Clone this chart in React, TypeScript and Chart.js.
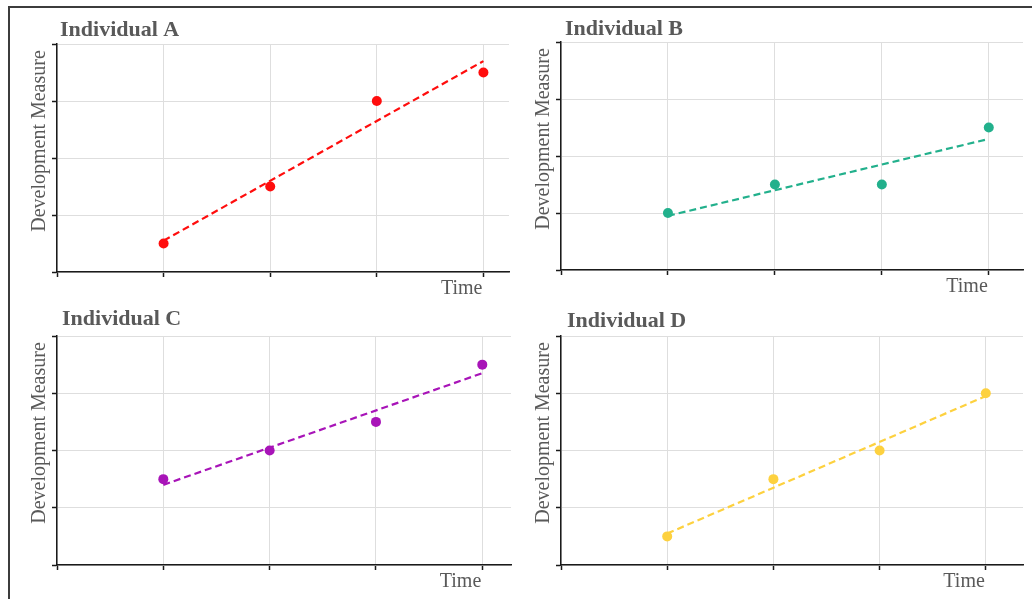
import React, { useEffect, useRef } from "react";
import { Chart, registerables } from "chart.js";

Chart.register(...registerables);

// ---- data ----
const PANEL_TITLES = ["Individual A", "Individual B", "Individual C", "Individual D"];
const TIMES = [1, 2, 3, 4];
const VALUES_A = [0.5, 1.5, 3, 3.5];
const VALUES_B = [1, 1.5, 1.5, 2.5];
const VALUES_C = [1.5, 2, 2.5, 3.5];
const VALUES_D = [0.5, 1.5, 2, 3];
// dashed trend lines (start / end values)
const TREND_TIMES = [1, 4];
const TREND_A = [0.55, 3.7];
const TREND_B = [0.95, 2.3];
const TREND_C = [1.4, 3.35];
const TREND_D = [0.55, 2.95];
const X_TICKS = [0, 1, 2, 3, 4];
const Y_TICKS = [0, 1, 2, 3, 4];
const Y_LABEL = "Development Measure";
const X_LABEL = "Time";
const COLORS = ["#ff0d0d", "#22b08c", "#a814b8", "#fdd13f"];

const VALUES = [VALUES_A, VALUES_B, VALUES_C, VALUES_D];
const TRENDS = [TREND_A, TREND_B, TREND_C, TREND_D];

// ---- layout ----
type Layout = {
  left: number; top: number; w: number; h: number;
  pad: { top: number; right: number; bottom: number };
  xmax: number; tdx: number; tdy: number;
};
const LAYOUTS: Layout[] = [
  { left: 0, top: 0, w: 520, h: 300, pad: { top: 44, right: 11, bottom: 0 }, xmax: 4.24, tdx: 3, tdy: -8 },
  { left: 504, top: 0, w: 528, h: 300, pad: { top: 42, right: 9, bottom: 2 }, xmax: 4.32, tdx: 4, tdy: -7 },
  { left: 0, top: 300, w: 520, h: 299, pad: { top: 36, right: 9, bottom: 6 }, xmax: 4.27, tdx: 5, tdy: -11 },
  { left: 504, top: 300, w: 528, h: 299, pad: { top: 36, right: 9, bottom: 6 }, xmax: 4.35, tdx: 6, tdy: -9 },
];

const TEXT_COLOR = "#595959";
const FONT = "'Liberation Serif', 'DejaVu Serif', serif";

const panelTextPlugin = {
  id: "panelText",
  afterDraw(chart: any, _args: any, opts: any) {
    const { ctx, chartArea } = chart;
    ctx.save();
    ctx.fillStyle = TEXT_COLOR;
    // title
    ctx.font = `bold 22px ${FONT}`;
    ctx.textAlign = "left";
    ctx.textBaseline = "alphabetic";
    ctx.fillText(opts.title, chartArea.left + opts.tdx, chartArea.top + opts.tdy);
    // y label
    ctx.save();
    ctx.font = `20px ${FONT}`;
    ctx.translate(chartArea.left - 12, chartArea.top + 97);
    ctx.rotate(-Math.PI / 2);
    ctx.textAlign = "center";
    ctx.textBaseline = "alphabetic";
    ctx.fillText(opts.ylabel, 0, 0);
    ctx.restore();
    // x label
    ctx.font = `20px ${FONT}`;
    ctx.textAlign = "right";
    ctx.textBaseline = "alphabetic";
    const xEnd = chart.scales.x.getPixelForValue(X_TICKS[X_TICKS.length - 1]);
    ctx.fillText(opts.xlabel, xEnd - 1, chartArea.bottom + 22);
    ctx.restore();
  },
};

function Panel({ idx }: { idx: number }) {
  const ref = useRef<HTMLCanvasElement | null>(null);
  const L = LAYOUTS[idx];
  useEffect(() => {
    if (!ref.current) return;
    const color = COLORS[idx];
    const points = TIMES.map((t, i) => ({ x: t, y: VALUES[idx][i] }));
    const trend = TREND_TIMES.map((t, i) => ({ x: t, y: TRENDS[idx][i] }));
    const gridCommon = {
      color: "#dedede",
      lineWidth: 1,
      drawTicks: true,
      tickLength: 5,
      tickColor: "#1a1a1a",
      tickWidth: 1.5,
    };
    const chart = new Chart(ref.current, {
      type: "scatter",
      data: {
        datasets: [
          {
            type: "scatter",
            data: points,
            backgroundColor: color,
            borderColor: color,
            borderWidth: 0,
            pointRadius: 5,
            order: 1,
          } as any,
          {
            type: "line",
            data: trend,
            borderColor: color,
            borderWidth: 2.2,
            borderDash: [7, 4],
            pointRadius: 0,
            fill: false,
            order: 2,
          } as any,
        ],
      },
      options: {
        responsive: false,
        animation: false,
        layout: { padding: { left: 0, top: L.pad.top, right: L.pad.right, bottom: L.pad.bottom } },
        plugins: {
          legend: { display: false },
          tooltip: { enabled: false },
          panelText: {
            title: PANEL_TITLES[idx],
            ylabel: Y_LABEL,
            xlabel: X_LABEL,
            tdx: L.tdx,
            tdy: L.tdy,
          },
        } as any,
        scales: {
          x: {
            type: "linear",
            position: "bottom",
            min: X_TICKS[0],
            max: L.xmax,
            ticks: { stepSize: 1, display: false, includeBounds: false },
            grid: gridCommon,
            border: { color: "#1a1a1a", width: 1.5 },
            afterFit: (s: any) => { s.height = 28; },
          },
          y: {
            type: "linear",
            position: "left",
            min: Y_TICKS[0],
            max: Y_TICKS[Y_TICKS.length - 1],
            ticks: { stepSize: 1, display: false, includeBounds: false },
            grid: gridCommon,
            border: { color: "#1a1a1a", width: 1.5 },
            afterFit: (s: any) => { s.width = 57; },
          },
        } as any,
      },
      plugins: [panelTextPlugin],
    });
    return () => chart.destroy();
  }, [idx]);
  return (
    <canvas
      ref={ref}
      width={L.w}
      height={L.h}
      style={{ position: "absolute", left: L.left, top: L.top, width: L.w, height: L.h }}
    />
  );
}

export default function App() {
  return (
    <div
      style={{
        position: "fixed",
        left: 0,
        top: 0,
        width: 1032,
        height: 599,
        background: "#ffffff",
        overflow: "hidden",
      }}
    >
      <div
        style={{
          position: "absolute",
          left: 8,
          top: 6,
          width: 1040,
          height: 610,
          borderTop: "2px solid #3c3c3c",
          borderLeft: "2px solid #3c3c3c",
        }}
      />
      {[0, 1, 2, 3].map((i) => (
        <Panel key={i} idx={i} />
      ))}
    </div>
  );
}
